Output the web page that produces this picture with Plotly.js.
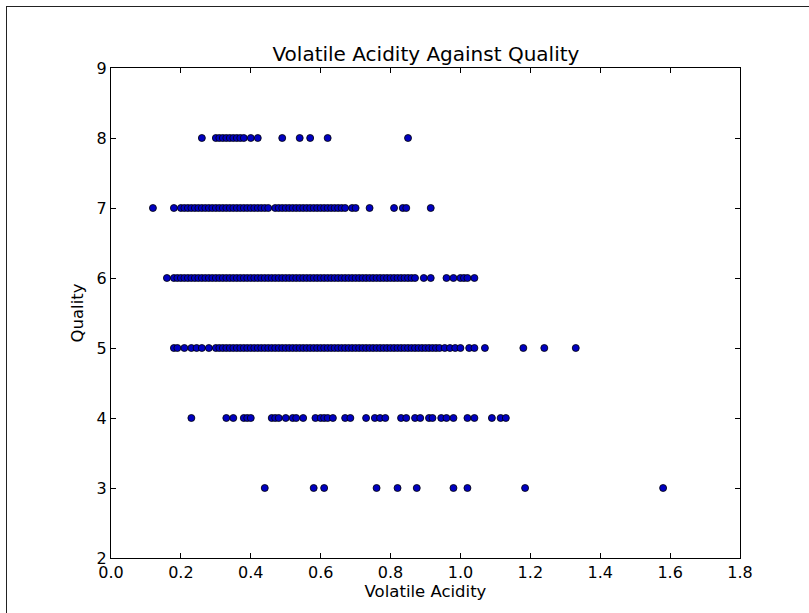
<!DOCTYPE html>
<html>
<head>
<meta charset="utf-8">
<script src="https://cdn.plot.ly/plotly-3.0.1.min.js"></script>
<style>
  html, body { margin: 0; padding: 0; background: #fff; overflow: hidden; }
  #chart { width: 809px; height: 613px; }
  #frame { position: absolute; left: 6px; top: 6px; width: 900px; height: 700px;
           border-left: 1.5px solid #222; border-top: 1.5px solid #222; pointer-events: none; }
</style>
</head>
<body>
<div id="chart"></div>
<div id="frame"></div>
<script>
// Volatile acidity values per quality level
const va3 = [0.44, 0.58, 0.61, 0.76, 0.82, 0.875, 0.98, 1.02, 1.185, 1.58];
const va4 = [0.23, 0.33, 0.35, 0.38, 0.39, 0.40, 0.46, 0.47, 0.48, 0.50, 0.52, 0.53, 0.55,
             0.585, 0.60, 0.61, 0.62, 0.635, 0.67, 0.685, 0.73, 0.755, 0.77, 0.785, 0.83,
             0.845, 0.87, 0.885, 0.91, 0.92, 0.945, 0.96, 0.98, 1.02, 1.04, 1.09, 1.115, 1.13];
const va5 = [0.18, 0.19, 0.21, 0.23, 0.245, 0.26, 0.28, 0.30,
             0.31, 0.32, 0.33, 0.34, 0.35, 0.36, 0.37, 0.38, 0.39, 0.40,
             0.41, 0.42, 0.43, 0.44, 0.45, 0.46, 0.47, 0.48, 0.49, 0.50,
             0.51, 0.52, 0.53, 0.54, 0.55, 0.56, 0.57, 0.58, 0.59, 0.60,
             0.61, 0.62, 0.63, 0.64, 0.65, 0.66, 0.67, 0.68, 0.69, 0.70,
             0.71, 0.72, 0.73, 0.74, 0.75, 0.76, 0.77, 0.78, 0.79, 0.80,
             0.81, 0.82, 0.83, 0.84, 0.85, 0.86, 0.87, 0.88, 0.89, 0.90,
             0.91, 0.92, 0.93, 0.94, 0.955, 0.97, 0.985,
             1.00, 1.025, 1.04, 1.07, 1.18, 1.24, 1.33];
const va6 = [0.16, 0.18, 0.19, 0.20, 0.21, 0.22, 0.23, 0.24, 0.25, 0.26, 0.27, 0.28, 0.29, 0.30,
             0.31, 0.32, 0.33, 0.34, 0.35, 0.36, 0.37, 0.38, 0.39, 0.40,
             0.41, 0.42, 0.43, 0.44, 0.45, 0.46, 0.47, 0.48, 0.49, 0.50,
             0.51, 0.52, 0.53, 0.54, 0.55, 0.56, 0.57, 0.58, 0.59, 0.60,
             0.61, 0.62, 0.63, 0.64, 0.65, 0.66, 0.67, 0.68, 0.69, 0.70,
             0.71, 0.72, 0.73, 0.74, 0.75, 0.76, 0.77, 0.78, 0.79, 0.80,
             0.81, 0.82, 0.83, 0.84, 0.85, 0.86, 0.87,
             0.895, 0.915, 0.96, 0.98, 1.00, 1.01, 1.02, 1.04];
const va7 = [0.12, 0.18, 0.20, 0.21, 0.22, 0.23, 0.24, 0.25, 0.26, 0.27, 0.28, 0.29, 0.30,
             0.31, 0.32, 0.33, 0.34, 0.35, 0.36, 0.37, 0.38, 0.39, 0.40,
             0.41, 0.42, 0.43, 0.44, 0.45, 0.47, 0.48, 0.49, 0.50,
             0.51, 0.52, 0.53, 0.54, 0.55, 0.56, 0.57, 0.58, 0.59, 0.60,
             0.61, 0.62, 0.63, 0.64, 0.65, 0.66, 0.67, 0.69, 0.70, 0.74,
             0.81, 0.835, 0.845, 0.915];
const va8 = [0.26, 0.30, 0.31, 0.32, 0.33, 0.34, 0.35, 0.36, 0.37, 0.38, 0.40, 0.42,
             0.49, 0.54, 0.57, 0.62, 0.85];
const qualities = [3, 4, 5, 6, 7, 8];
const groups = [va3, va4, va5, va6, va7, va8];

const xs = [], ys = [];
groups.forEach((g, i) => g.forEach(v => { xs.push(v); ys.push(qualities[i]); }));

const xTicks = [0.0, 0.2, 0.4, 0.6, 0.8, 1.0, 1.2, 1.4, 1.6, 1.8];
const yTicks = [2, 3, 4, 5, 6, 7, 8, 9];

const font = { family: 'DejaVu Sans, sans-serif', color: '#000' };

const trace = {
  x: xs, y: ys, type: 'scatter', mode: 'markers',
  marker: { size: 7, color: '#0000c0', line: { color: '#000', width: 0.8 } },
  hoverinfo: 'x+y'
};

const axisCommon = {
  showgrid: false, zeroline: false, showline: true, linecolor: '#000', linewidth: 1,
  mirror: 'ticks', ticks: 'inside', ticklen: 5, tickcolor: '#000', tickwidth: 1,
  tickfont: Object.assign({ size: 16 }, font)
};

const layout = {
  width: 809, height: 613,
  margin: { l: 111, r: 69, t: 68, b: 55 },
  paper_bgcolor: '#fff', plot_bgcolor: '#fff',
  showlegend: false,
  title: { text: 'Volatile Acidity Against Quality', font: Object.assign({ size: 20 }, font),
           x: 0.5265, xanchor: 'center', y: 0.912, yanchor: 'middle' },
  xaxis: Object.assign({}, axisCommon, {
    range: [0, 1.8], tickvals: xTicks, tickformat: '.1f',
    title: { text: 'Volatile Acidity', font: Object.assign({ size: 16.5 }, font), standoff: 2 }
  }),
  yaxis: Object.assign({}, axisCommon, {
    range: [2, 9], tickvals: yTicks,
    title: { text: 'Quality', font: Object.assign({ size: 16.5 }, font), standoff: 8 }
  })
};

Plotly.newPlot('chart', [trace], layout, { displayModeBar: false, staticPlot: true });
</script>
</body>
</html>
